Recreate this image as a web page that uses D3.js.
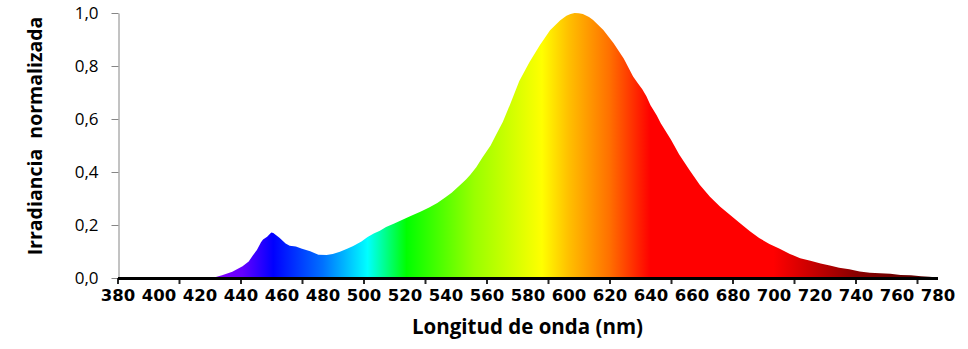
<!DOCTYPE html>
<html>
<head>
<meta charset="utf-8">
<script src="https://cdn.jsdelivr.net/npm/d3@7"></script>
<style>
  html, body { margin: 0; padding: 0; background: #fff; }
  svg { display: block; }
  text { fill: #000; }
</style>
</head>
<body>
<svg id="chart" width="968" height="349"></svg>
<script>
// Wavelength samples (nm) and normalized irradiance of the lamp spectrum
const wavelengths = [
  380, 400, 420, 426, 428, 431, 436, 441, 444, 446, 448, 450, 451, 453, 455, 456,
  459, 462, 464, 467, 470, 474, 478, 482, 485, 488.5, 492, 495, 499, 502, 505, 508,
  511, 515, 519, 523, 528, 532, 536, 540, 543, 547, 550, 552, 555, 558, 562, 565,
  568, 571.5, 576, 581, 586, 591, 596, 599, 601, 603, 605, 607, 610, 612, 617, 622,
  627, 631.5, 634, 636, 638, 640, 643, 645, 650, 654, 659, 664, 669, 674, 679, 684,
  688.5, 693, 698, 703, 708, 713, 718, 723, 728, 732, 737, 742, 747, 752, 757, 762,
  767, 772, 776, 780
];
const irradiance = [
  0, 0, 0, 0, 0.004, 0.010, 0.024, 0.044, 0.062, 0.085, 0.106, 0.135, 0.145, 0.156, 0.172, 0.170,
  0.152, 0.130, 0.122, 0.119, 0.110, 0.101, 0.088, 0.087, 0.091, 0.099, 0.110, 0.121, 0.138, 0.155, 0.168, 0.178,
  0.192, 0.206, 0.220, 0.234, 0.251, 0.266, 0.283, 0.305, 0.322, 0.350, 0.372, 0.389, 0.418, 0.455, 0.500, 0.545,
  0.590, 0.655, 0.743, 0.815, 0.878, 0.935, 0.973, 0.990, 0.996, 1.000, 0.999, 0.996, 0.985, 0.974, 0.936, 0.886,
  0.827, 0.760, 0.733, 0.712, 0.686, 0.652, 0.614, 0.584, 0.522, 0.466, 0.408, 0.352, 0.307, 0.269, 0.237, 0.205,
  0.176, 0.151, 0.128, 0.110, 0.091, 0.075, 0.065, 0.055, 0.046, 0.039, 0.033, 0.025, 0.020, 0.018, 0.016, 0.011,
  0.010, 0.007, 0.005, 0.002
];

// Axis labels and tick positions
const xLabelValues = d3.range(380, 781, 20);
const xTickMarks = d3.range(380, 771, 30);
const yTickValues = [0, 0.2, 0.4, 0.6, 0.8, 1.0];
const xTitle = "Longitud de onda (nm)";
const yTitle = "Irradiancia  normalizada";

// Spectral colour stops for the area fill
const spectrumNm = [380, 430, 441, 456, 480, 502, 521, 554, 587, 600, 620, 640, 700, 740, 780];
const spectrumColor = ["#9a00ff", "#7f00ff", "#6400ff", "#0000ff", "#0070ff", "#00ffff", "#00ff00",
                       "#99ff00", "#ffff00", "#ffc000", "#ff7000", "#ff0000", "#ff0000", "#8a0000", "#4e0000"];

const svg = d3.select("#chart");
const x = d3.scaleLinear().domain([380, 780]).range([117.5, 937.5]);
const y = d3.scaleLinear().domain([0, 1]).range([278, 13]);

const locale = d3.formatLocale({ decimal: ",", thousands: ".", grouping: [3], currency: ["", "€"] });
const fmt = locale.format(".1f");

// Gradient running along the wavelength axis
const defs = svg.append("defs");
const grad = defs.append("linearGradient")
  .attr("id", "spectrum")
  .attr("gradientUnits", "userSpaceOnUse")
  .attr("x1", x(380)).attr("x2", x(780))
  .attr("y1", 0).attr("y2", 0);
grad.selectAll("stop")
  .data(spectrumNm)
  .join("stop")
  .attr("offset", d => (d - 380) / 400)
  .attr("stop-color", (d, i) => spectrumColor[i]);

const data = wavelengths.map((w, i) => ({ w, v: irradiance[i] }));

const area = d3.area()
  .x(d => x(d.w))
  .y0(y(0))
  .y1(d => y(d.v));

svg.append("path")
  .datum(data)
  .attr("d", area)
  .attr("fill", "url(#spectrum)");

// Y axis
const yAxis = svg.append("g")
  .attr("transform", `translate(${x(380) + 1},0)`)
  .call(d3.axisLeft(y).tickValues(yTickValues).tickFormat(fmt).tickSize(7).tickPadding(13).tickSizeOuter(0));
yAxis.select(".domain").attr("stroke", "#868686").attr("stroke-width", 1);
yAxis.selectAll(".tick line").attr("stroke", "#868686");
yAxis.selectAll("text")
  .attr("font-family", "'Open Sans', Lato, sans-serif")
  .attr("font-size", 17)
  .attr("fill", "#000");

// X axis tick marks
const xMarks = svg.append("g")
  .attr("transform", `translate(0,${y(0)})`)
  .call(d3.axisBottom(x).tickValues(xTickMarks).tickFormat("").tickSize(6).tickSizeOuter(0));
xMarks.select(".domain").remove();
xMarks.selectAll(".tick line").attr("stroke", "#262626").attr("stroke-width", 2);

// X axis line and labels
const xAxis = svg.append("g")
  .attr("transform", `translate(0,${y(0)})`)
  .call(d3.axisBottom(x).tickValues(xLabelValues).tickFormat(d3.format("d")).tickSize(0).tickPadding(11.4).tickSizeOuter(0));
xAxis.select(".domain").attr("stroke", "#000").attr("stroke-width", 3);
xAxis.selectAll("text")
  .attr("font-family", "'DejaVu Sans', Verdana, sans-serif")
  .attr("font-weight", "bold")
  .attr("font-size", 16.5)
  .attr("fill", "#000");

// Axis titles
svg.append("text")
  .attr("x", 527.5)
  .attr("y", 333.5)
  .attr("text-anchor", "middle")
  .attr("font-family", "'Open Sans', Lato, sans-serif")
  .attr("font-weight", "bold")
  .attr("font-size", 20.5)
  .text(xTitle);

svg.append("text")
  .attr("transform", "translate(41.5,136) rotate(-90)")
  .attr("text-anchor", "middle")
  .attr("font-family", "'Open Sans', Lato, sans-serif")
  .attr("font-weight", "bold")
  .attr("font-size", 19.5)
  .style("white-space", "pre")
  .text(yTitle);
</script>
</body>
</html>
